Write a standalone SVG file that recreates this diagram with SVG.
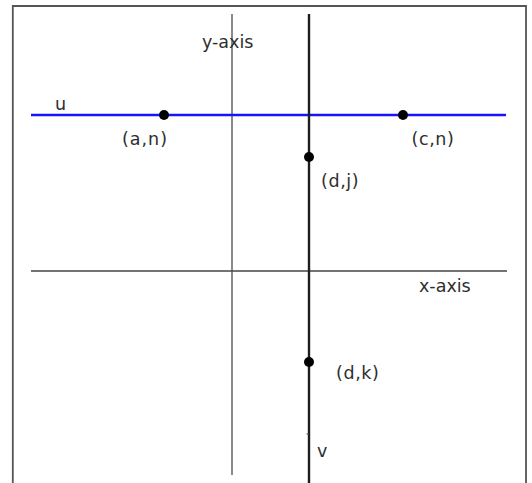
<svg xmlns="http://www.w3.org/2000/svg" width="532" height="483" viewBox="0 0 532 483">
  <style>
    .lbl { font-family: "DejaVu Sans", Verdana, sans-serif; font-size: 17.5px; fill: #2e2e2e; }
    .pt { fill: #000; }
    .frame { fill: none; stroke: #555; stroke-width: 1.8; }
  </style>
  <rect x="0" y="0" width="532" height="483" fill="#fff"/>
  <path class="frame" d="M12.8,483 V6 H526 V483"/>
  <g id="connectors">
    <line id="y-axis" x1="232" y1="14" x2="232" y2="475" stroke="#8a8a8a" stroke-width="2"/>
    <line id="x-axis" x1="31" y1="271" x2="507" y2="271" stroke="#444" stroke-width="1.6"/>
    <line id="line-u" x1="31" y1="115" x2="506" y2="115" stroke="#1414ff" stroke-width="2.4"/>
    <line id="line-v" x1="309" y1="14" x2="309" y2="483" stroke="#1e1e1e" stroke-width="2.4"/>
    <line x1="306.5" y1="434" x2="309" y2="434" stroke="#444" stroke-width="1"/>
  </g>
  <g id="label-y-axis"><text class="lbl" x="202" y="48">y-axis</text></g>
  <g id="label-x-axis"><text class="lbl" x="419" y="292">x-axis</text></g>
  <g id="label-u"><text class="lbl" x="55" y="110">u</text></g>
  <g id="label-v"><text class="lbl" x="317" y="457">v</text></g>
  <g id="point-an">
    <circle class="pt" cx="164" cy="115" r="5"/>
    <text class="lbl" x="122" y="145" letter-spacing="1">(a,n)</text>
  </g>
  <g id="point-cn">
    <circle class="pt" cx="403" cy="115" r="5"/>
    <text class="lbl" x="411.5" y="145" letter-spacing="0.6">(c,n)</text>
  </g>
  <g id="point-dj">
    <circle class="pt" cx="309" cy="157" r="5"/>
    <text class="lbl" x="321" y="187" letter-spacing="0.6">(d,j)</text>
  </g>
  <g id="point-dk">
    <circle class="pt" cx="309" cy="362" r="5"/>
    <text class="lbl" x="336" y="379" letter-spacing="0.6">(d,k)</text>
  </g>
</svg>
